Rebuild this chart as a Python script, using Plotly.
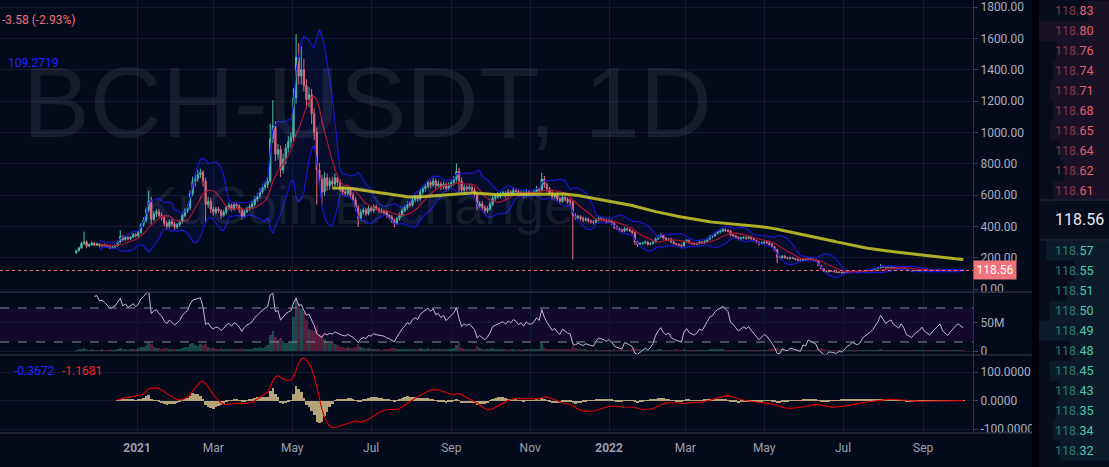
import pandas as pd
import plotly.graph_objects as go
from plotly.subplots import make_subplots

# 2-day candles, BCH-USDT, from 2020-11-15
start_date = "2020-11-15"
first_open = 232
close = [
    245, 262, 290, 300, 275, 284, 292, 280,  # Nov 2020
    288, 275, 282, 276, 270, 262, 268, 275,
    300, 335, 315, 330, 320, 332, 348, 340,
    360, 410, 440, 505, 560, 445, 480, 495,  # Jan 2021
    470, 455, 420, 400, 430, 415, 395, 410,
    430, 470, 500, 520, 610, 690, 705, 730,  # Feb
    745, 690, 540, 560, 510, 490,
    510, 500, 470, 490, 520, 535, 510, 540,  # Mar
    530, 505, 465, 495, 515, 525, 540,
    575, 595, 620, 650, 665, 690, 960,  # Apr
    1040, 860, 890, 760, 830, 900, 940, 970,
    1220, 1480, 1360, 1400, 1300, 1210, 1240, 1120,  # May
    1000, 760, 700, 620, 710, 660, 690, 670,
    710, 680, 640, 620, 610, 630, 600,  # Jun
    570, 520, 450, 490, 505, 480, 515,
    500, 525, 510, 500, 495, 490, 470, 460,  # Jul
    440, 420, 450, 475, 500,
    520, 545, 535, 570, 585, 575, 620, 640,  # Aug
    655, 680, 665, 690, 660, 672, 650, 668, 640, 662,
    680, 700, 750, 690, 630, 650,  # Sep
    640, 650, 630, 610, 530, 545, 520,
    500, 515, 540, 580, 590, 600, 610,  # Oct
    615, 600, 620, 610, 630, 622, 605, 615, 598, 620, 610,
    610, 620, 640, 630, 700, 665, 640,  # Nov
    615, 590, 600, 575, 560, 585, 575,
    560, 555, 470,  # Dec
    455, 462, 450, 440, 446, 435, 430,
    425, 440, 450, 445, 440, 430,
    435, 420, 395, 385, 375, 370,  # Jan 2022
    385, 380, 370,
    360, 300, 285,
    290, 295, 300, 285, 290, 300,
    320, 335, 345, 325, 315,  # Feb
    320, 300, 290, 285, 280, 275, 300, 310,
    295, 290, 285, 290, 300, 295, 305,  # Mar
    320, 335, 340, 355, 365, 370,
    380, 375, 370, 345, 340,  # Apr
    330, 320, 325, 330, 325,
    330, 320, 310, 300, 290, 295, 300,
    295, 285, 270, 250, 205,  # May
    200, 210, 200, 195, 200,
    195, 190, 185, 180, 190, 185, 195, 190, 185, 180,
    150, 130, 115, 110,  # Jun
    115, 112, 110, 105, 108, 103, 106, 110, 112, 115,
    112, 108, 110, 115, 118, 120, 122, 125, 130, 135,  # Jul
    145, 140, 135, 138, 140, 135, 132, 130, 135, 130,  # Aug
    120, 118, 115, 118, 120, 122, 125, 120, 118, 115,
    118, 120, 122, 125, 118, 115, 112, 115, 118, 120, 122, 120, 118.56,  # Sep
]
# upper / lower wick length, percent of body edge
hi_pct = [
    2, 3, 4, 22, 3, 2, 4, 3,
    3, 2, 2, 3, 2, 3, 2, 3,
    3, 12, 3, 2, 3, 2, 3, 3,
    3, 3, 4, 3, 12, 5, 4, 3,
    3, 4, 3, 4, 3, 4, 3, 3,
    3, 3, 3, 4, 3, 4, 4, 4,
    3, 2, 3, 5, 4, 3,
    3, 3, 2, 3, 3, 3, 2, 3,
    3, 2, 3, 3, 2, 3, 3,
    3, 3, 4, 3, 3, 4, 10,
    16, 3, 4, 3, 4, 3, 4, 3,
    5, 10, 6, 11, 5, 3, 4, 3,
    3, 3, 6, 4, 5, 4, 3, 4,
    4, 3, 3, 3, 3, 3, 3,
    3, 3, 3, 4, 3, 3, 3,
    3, 3, 3, 2, 3, 2, 3, 2,
    3, 3, 3, 3, 3,
    3, 3, 3, 3, 3, 3, 3, 3,
    3, 3, 2, 3, 2, 3, 2, 3, 2, 3,
    3, 3, 7, 3, 3, 3,
    2, 3, 2, 3, 2, 3, 3,
    3, 3, 3, 3, 3, 3, 2,
    2, 2, 3, 2, 3, 2, 2, 3, 2, 3, 2,
    2, 3, 3, 2, 6, 3, 2,
    2, 3, 2, 3, 2, 3, 2,
    2, 3, 2,
    3, 3, 2, 3, 3, 2, 2,
    2, 3, 3, 2, 2, 2,
    3, 2, 2, 3, 2, 3,
    3, 2, 2,
    2, 2, 3,
    3, 2, 3, 2, 3, 2,
    3, 3, 3, 2, 2,
    2, 2, 3, 2, 2, 3, 3, 3,
    2, 2, 2, 3, 2, 2, 3,
    3, 3, 2, 3, 3, 3,
    3, 2, 2, 2, 3,
    2, 2, 3, 2, 2,
    3, 2, 2, 2, 2, 3, 2,
    2, 2, 3, 2, 3,
    4, 3, 3, 3, 3,
    3, 2, 3, 2, 3, 2, 3, 2, 2, 2,
    2, 3, 3, 3,
    3, 3, 2, 3, 3, 2, 3, 3, 2, 3,
    3, 2, 3, 3, 2, 3, 2, 3, 3, 3,
    10, 3, 2, 3, 2, 2, 3, 2, 3, 2,
    2, 2, 3, 2, 2, 3, 2, 2, 3, 2,
    2, 2, 3, 2, 2, 2, 3, 2, 2, 3, 2, 2, 2,
]
lo_pct = [
    3, 2, 2, 3, 5, 2, 3, 2,
    2, 3, 2, 2, 3, 2, 3, 2,
    2, 3, 4, 2, 3, 2, 2, 3,
    3, 2, 3, 3, 3, 8, 3, 4,
    3, 4, 5, 4, 3, 4, 5, 3,
    3, 3, 2, 3, 3, 3, 5, 3,
    3, 5, 22, 4, 5, 4,
    3, 3, 4, 2, 3, 3, 3, 2,
    3, 4, 5, 3, 2, 3, 2,
    2, 3, 3, 2, 3, 3, 2,
    3, 5, 4, 6, 3, 4, 3, 4,
    3, 3, 4, 4, 3, 5, 4, 6,
    5, 29, 6, 14, 4, 5, 4, 3,
    3, 3, 3, 3, 3, 3, 3,
    3, 4, 12, 3, 3, 3, 2,
    2, 3, 2, 3, 2, 3, 3, 3,
    4, 6, 3, 3, 3,
    2, 3, 3, 2, 3, 3, 2, 3,
    3, 2, 3, 2, 3, 2, 3, 2, 3, 2,
    2, 3, 2, 12, 4, 3,
    3, 2, 3, 3, 5, 3, 4,
    4, 3, 3, 2, 3, 2, 3,
    2, 3, 2, 3, 2, 2, 3, 2, 3, 2, 3,
    3, 2, 2, 3, 2, 3, 3,
    3, 3, 2, 3, 3, 2, 3,
    3, 3, 60,
    3, 2, 3, 3, 2, 3, 3,
    3, 2, 2, 3, 2, 3,
    2, 3, 3, 2, 3, 2,
    2, 3, 2,
    3, 6, 5,
    3, 2, 2, 3, 2, 2,
    2, 2, 3, 3, 3,
    3, 3, 2, 3, 3, 4, 2, 2,
    2, 3, 2, 2, 2, 3, 2,
    2, 2, 3, 2, 2, 3,
    2, 3, 2, 3, 2,
    3, 3, 2, 2, 3,
    2, 3, 3, 3, 4, 2, 3,
    3, 3, 3, 4, 19,
    4, 3, 3, 3, 3,
    2, 3, 2, 3, 2, 2, 2, 3, 3, 2,
    3, 4, 5, 4,
    3, 2, 3, 3, 2, 3, 2, 2, 3, 2,
    2, 3, 2, 2, 3, 2, 2, 2, 3, 2,
    2, 3, 3, 2, 2, 3, 2, 3, 2, 3,
    3, 2, 3, 2, 2, 2, 3, 2, 2, 3,
    2, 3, 2, 3, 2, 3, 2, 2, 2, 2, 3, 2, 2,
]
# volume in millions
volume_m = [
    2, 3, 4, 5, 3, 2, 3, 2, 2, 2, 3, 2, 2, 3, 2, 2, 4, 5, 3, 3, 2, 3, 4, 3,
    5, 8, 7, 10, 14, 12, 8, 6, 5, 4, 6, 5, 4, 3, 4, 3,
    4, 6, 7, 8, 12, 14, 10, 9, 12, 10, 13, 7, 6, 5,
    4, 4, 5, 4, 3, 4, 3, 4, 3, 4, 5, 3, 3, 4, 4,
    5, 6, 7, 6, 8, 10, 28, 35, 25, 20, 24, 18, 15, 14, 16,
    60, 95, 85, 75, 70, 55, 40, 38, 35, 45, 30, 28, 22, 18, 15, 14,
    12, 10, 8, 7, 6, 7, 6, 6, 8, 12, 7, 5, 4, 5,
    4, 3, 3, 3, 2, 3, 3, 4, 5, 6, 4, 4, 4,
    4, 4, 3, 4, 3, 4, 5, 4, 4, 5, 3, 4, 3, 3, 3, 4, 3, 3,
    4, 5, 10, 16, 6, 4, 3, 3, 3, 4, 9, 5, 4, 4, 3, 4, 5, 4, 3, 3,
    3, 3, 2, 3, 3, 2, 3, 2, 3, 4, 3, 3, 3, 4, 3, 15, 6, 4,
    3, 3, 3, 3, 3, 3, 3, 3, 3, 12,
    5, 4, 3, 3, 3, 2, 2, 2, 3, 2, 2, 2, 2,
    2, 2, 3, 2, 2, 2, 2, 2, 2, 3, 6, 4, 3, 2, 2, 2, 2, 2, 2, 3, 3, 2, 2,
    2, 2, 2, 3, 2, 2, 3, 2, 2, 2, 2, 2, 2, 2, 2, 2, 3, 3, 3, 3, 3,
    3, 2, 2, 2, 2, 2, 2, 2, 2, 2, 2, 2, 2, 2, 2, 2, 2,
    2, 3, 3, 4, 6, 4, 3, 2, 2, 2, 2, 2, 2, 2, 2, 2, 2, 2, 2, 2, 4, 5, 3, 2,
    2, 2, 1, 2, 1, 1, 1, 1, 1, 1, 1, 1, 1, 1, 1, 2, 1, 1, 2, 2,
    3, 2, 2, 1, 1, 1, 1, 1, 1, 1, 2, 1, 1, 1, 1, 1, 1, 1, 1, 1,
    1, 1, 1, 1, 2, 1, 1, 1, 1, 1, 1, 1, 1,
]
assert len(close) == len(hi_pct) == len(lo_pct) == len(volume_m)

ask_prices = ["118.83", "118.80", "118.76", "118.74", "118.71",
              "118.68", "118.65", "118.64", "118.62", "118.61"]
ask_depth = [0.3, 1.0, 0.75, 0.8, 0.85, 0.8, 0.85, 0.7, 0.65, 0.8]
bid_prices = ["118.57", "118.55", "118.51", "118.50", "118.49", "118.48",
              "118.45", "118.43", "118.35", "118.34", "118.32"]
bid_depth = [0.9, 0.5, 0.6, 0.85, 1.0, 0.55, 0.85, 0.7, 0.75, 0.8, 0.7]
last_price = 118.56

month_ticks = ["2021-01-01", "2021-03-01", "2021-05-01", "2021-07-01", "2021-09-01",
               "2021-11-01", "2022-01-01", "2022-03-01", "2022-05-01", "2022-07-01",
               "2022-09-01"]
month_text = ["<b>2021</b>", "Mar", "May", "Jul", "Sep", "Nov", "<b>2022</b>",
              "Mar", "May", "Jul", "Sep"]

# ---- derived series
dates = pd.date_range(start_date, periods=len(close), freq="2D")
opens = [first_open] + close[:-1]
high = [max(o, c) * (1 + h / 100) for o, c, h in zip(opens, close, hi_pct)]
low = [min(o, c) * (1 - l / 100) for o, c, l in zip(opens, close, lo_pct)]

s = pd.Series(close, dtype=float)
bb_mid = s.rolling(10).mean()
bb_std = s.rolling(10).std(ddof=0)
bb_up = bb_mid + 2 * bb_std
bb_lo = bb_mid - 2 * bb_std
ma_long = s.ewm(span=100, adjust=False).mean()
ma_long[:99] = None

delta = s.diff()
gain = delta.clip(lower=0).ewm(alpha=1 / 12, adjust=False).mean()
loss = (-delta.clip(upper=0)).ewm(alpha=1 / 12, adjust=False).mean()
rsi = 100 - 100 / (1 + gain / loss)
rsi[:7] = None

macd = s.ewm(span=6, adjust=False).mean() - s.ewm(span=13, adjust=False).mean()
signal = macd.ewm(span=5, adjust=False).mean()
hist = macd - signal
signal[:16] = None
hist[:16] = None

up_col = "#4fc2a3"
dn_col = "#ef6f78"
vol_col = ["rgba(60,190,150,0.35)" if c >= o else "rgba(230,70,100,0.35)"
           for o, c in zip(opens, close)]

# ---- figure
W, H = 1109, 467
PW, PH = 973, 433  # plot area in px


def px(x):
    return x / PW


def py(y):
    return (PH - y) / PH


fig = make_subplots(rows=3, cols=1, shared_xaxes=True, vertical_spacing=0,
                    row_heights=[292, 63, 78],
                    specs=[[{}], [{"secondary_y": True}], [{}]])

fig.add_trace(go.Scatter(x=dates, y=bb_lo, mode="lines", line=dict(width=0),
                         hoverinfo="skip", showlegend=False), row=1, col=1)
fig.add_trace(go.Scatter(x=dates, y=bb_up, mode="lines", line=dict(width=0),
                         fill="tonexty", fillcolor="rgba(40,50,190,0.11)",
                         hoverinfo="skip", showlegend=False), row=1, col=1)
fig.add_trace(go.Candlestick(
    x=dates, open=opens, high=high, low=low, close=close,
    increasing=dict(line=dict(color=up_col, width=1), fillcolor=up_col),
    decreasing=dict(line=dict(color=dn_col, width=1), fillcolor=dn_col),
    whiskerwidth=0, showlegend=False), row=1, col=1)
fig.add_trace(go.Scatter(x=dates, y=bb_up, mode="lines", line=dict(color="#1616d0", width=1.2),
                         showlegend=False), row=1, col=1)
fig.add_trace(go.Scatter(x=dates, y=bb_lo, mode="lines", line=dict(color="#1616d0", width=1.2),
                         showlegend=False), row=1, col=1)
fig.add_trace(go.Scatter(x=dates, y=bb_mid, mode="lines", line=dict(color="#b0142c", width=1.2),
                         showlegend=False), row=1, col=1)
fig.add_trace(go.Scatter(x=dates, y=ma_long, mode="lines",
                         line=dict(color="rgba(205,205,40,0.85)", width=3),
                         showlegend=False), row=1, col=1)

fig.add_trace(go.Bar(x=dates, y=volume_m, marker=dict(color=vol_col, line=dict(width=0)),
                     showlegend=False), row=2, col=1, secondary_y=False)
fig.add_trace(go.Scatter(x=dates, y=rsi, mode="lines", line=dict(color="#c3b9d8", width=1),
                         showlegend=False), row=2, col=1, secondary_y=True)

fig.add_trace(go.Bar(x=dates, y=hist, marker=dict(color="#b5a47a", line=dict(width=0)),
                     showlegend=False), row=3, col=1)
fig.add_trace(go.Scatter(x=dates, y=signal, mode="lines", line=dict(color="#d60000", width=1.2),
                         showlegend=False), row=3, col=1)

bg = "#030a1c"
grid = "#111a2e"
tick_font = dict(family="Roboto", size=12, color="#a9afbc")

fig.update_xaxes(domain=[0, 1], range=["2020-09-17", "2022-10-09 12:00"], showgrid=True,
                 gridcolor=grid, tickvals=month_ticks, ticktext=month_text, zeroline=False,
                 automargin=False, rangeslider_visible=False,
                 tickfont=dict(family="Roboto", size=12, color="#9aa0ad"), ticklabelstandoff=6)
fig.update_yaxes(side="right", gridcolor=grid, zeroline=False, showline=True, automargin=False,
                 linecolor="#2a3144", ticks="outside", ticklen=4, tickcolor="#3a4152",
                 tickfont=tick_font)
fig.update_yaxes(row=1, col=1, range=[-19, 1845], tickvals=list(range(0, 1801, 200)),
                 ticktext=[f"{v:.2f}" for v in range(0, 1801, 200)])
fig.update_yaxes(row=2, col=1, secondary_y=False, range=[-7.1, 105], tickvals=[0, 50],
                 ticktext=["0", "50M"])
fig.update_yaxes(row=2, col=1, secondary_y=True, range=[14.7, 88.8], showgrid=False,
                 showticklabels=False, ticks="", showline=False)
fig.update_yaxes(row=3, col=1, range=[-114, 160], tickvals=[-100, 0, 100],
                 ticktext=["-100.0000", "0.0000", "100.0000"])

shapes = []
# RSI band and levels
shapes.append(dict(type="rect", xref="x2 domain", x0=0, x1=1, yref="y3", y0=30, y1=70,
                   fillcolor="#12092c", line=dict(width=0), layer="below"))
for lvl in (30, 70):
    shapes.append(dict(type="line", xref="x2 domain", x0=0, x1=1, yref="y3", y0=lvl, y1=lvl,
                       line=dict(color="#8a8a9c", width=1, dash="dash")))
# last price line
shapes.append(dict(type="line", xref="x domain", x0=0, x1=1, yref="y", y0=last_price,
                   y1=last_price, line=dict(color="#f0727a", width=1, dash="dot")))
# panel separators
for yy in (292, 355, 433):
    shapes.append(dict(type="line", xref="paper", x0=0, x1=px(1032), yref="paper",
                       y0=py(yy), y1=py(yy), line=dict(color="#252c3e", width=1.5)))

# order book panel
shapes.append(dict(type="rect", xref="paper", x0=px(1032), x1=px(1109), yref="paper",
                   y0=py(0), y1=py(467), fillcolor="#000208", line=dict(width=0)))
shapes.append(dict(type="rect", xref="paper", x0=px(1039), x1=px(1109), yref="paper",
                   y0=py(0), y1=py(467), fillcolor="#080d1d", line=dict(width=0)))
for i, d in enumerate(ask_depth):
    yc = 10.7 + 20 * i
    shapes.append(dict(type="rect", xref="paper", x0=px(1109 - 70 * d), x1=px(1109),
                       yref="paper", y0=py(yc - 10), y1=py(yc + 10),
                       fillcolor="rgba(120,45,85,0.16)", line=dict(width=0)))
for i, d in enumerate(bid_depth):
    yc = 250.7 + 20 * i
    shapes.append(dict(type="rect", xref="paper", x0=px(1109 - 70 * d), x1=px(1109),
                       yref="paper", y0=py(yc - 10), y1=py(yc + 10),
                       fillcolor="rgba(40,115,140,0.14)", line=dict(width=0)))
for yy in (200, 240):
    shapes.append(dict(type="line", xref="paper", x0=px(1039), x1=px(1109), yref="paper",
                       y0=py(yy), y1=py(yy), line=dict(color="#1b2234", width=1.5)))
fig.update_layout(shapes=shapes)


def label(text, x, y, size=12, color=None, family="Roboto", xanchor="left", **kw):
    font = dict(family=family, size=size)
    if color:
        font["color"] = color
    return dict(text=text, xref="paper", yref="paper", x=x, y=y, xanchor=xanchor,
                yanchor="middle", showarrow=False, font=font, **kw)


ann = []
ann.append(label("BCH-USDT, 1D", px(367), py(102), size=100, family="Liberation Sans",
                 color="rgba(200,210,235,0.09)", xanchor="center"))
ann.append(label("KuCoin Exchange", px(358), py(205), size=54, family="Liberation Sans",
                 color="rgba(200,210,235,0.09)", xanchor="center"))
ann.append(label("-3.58 (-2.93%)", 0, py(20), color="#f07178"))
ann.append(label("109.2719", px(6), py(63), color="#2020ff"))
ann.append(label("-0.3672", px(12), py(371), color="#2424ff"))
ann.append(label("-1.1681", px(60), py(371), color="#ff2020"))
ann.append(dict(text=f"{last_price:.2f}", xref="paper", yref="y", x=1, y=last_price,
                xanchor="left", yanchor="middle", showarrow=False, bgcolor="#f0727a",
                borderpad=2, width=38, font=dict(family="Roboto", size=12, color="#ffffff")))
for i, p in enumerate(ask_prices):
    a, b = p.split(".")
    ann.append(label(f"<span style='color:#7e3846'>{a}.</span>"
                     f"<span style='color:#e3606c'>{b}</span>",
                     px(1053), py(10.7 + 20 * i), size=12.5))
for i, p in enumerate(bid_prices):
    a, b = p.split(".")
    ann.append(label(f"<span style='color:#2b786b'>{a}.</span>"
                     f"<span style='color:#4cc9ad'>{b}</span>",
                     px(1053), py(250.7 + 20 * i), size=12.5))
ann.append(label(f"{last_price:.2f}", px(1053), py(220), size=16, color="#e8eaf0"))
fig.update_layout(annotations=ann)

fig.update_layout(width=W, height=H, margin=dict(l=0, r=W - PW, t=0, b=H - PH),
                  paper_bgcolor=bg, plot_bgcolor=bg, bargap=0, hovermode=False,
                  showlegend=False)

fig.write_html("out.html", config={"displayModeBar": False},
               post_script="document.body.style.margin='0';"
                           "document.body.style.background='#030a1c';")
